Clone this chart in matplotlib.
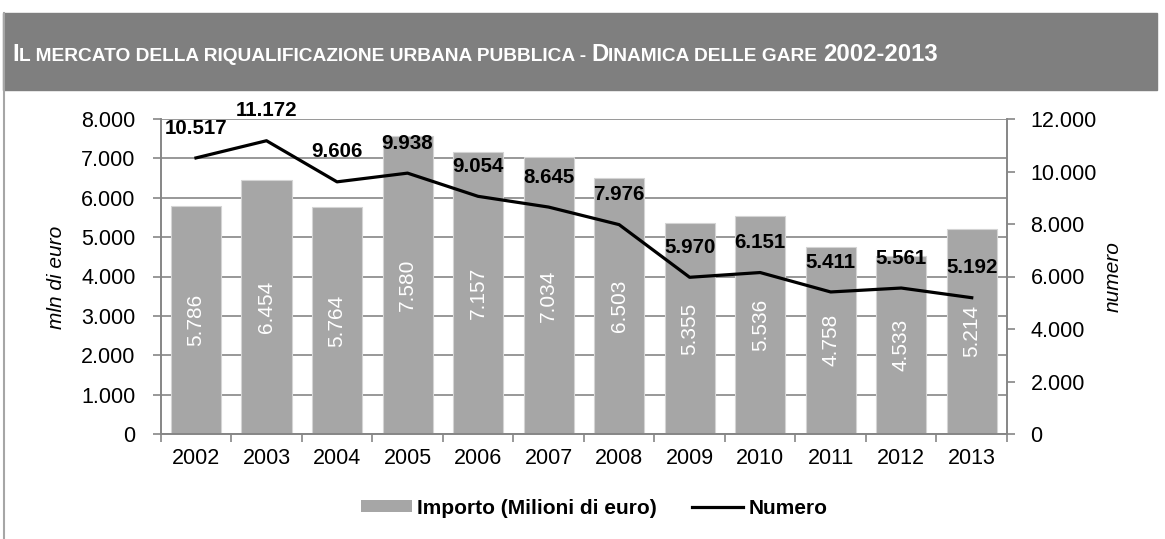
import numpy as np
import matplotlib
matplotlib.use('Agg')
import matplotlib.pyplot as plt
from matplotlib.patches import Rectangle, Patch
from matplotlib.lines import Line2D

plt.rcParams['font.family'] = ['Liberation Sans', 'DejaVu Sans']

anni = ['2002', '2003', '2004', '2005', '2006', '2007',
        '2008', '2009', '2010', '2011', '2012', '2013']
importo = [5786, 6454, 5764, 7580, 7157, 7034, 6503, 5355, 5536, 4758, 4533, 5214]
numero = [10517, 11172, 9606, 9938, 9054, 8645, 7976, 5970, 6151, 5411, 5561, 5192]

left_ticks = list(range(0, 8001, 1000))
right_ticks = list(range(0, 12001, 2000))

titolo = [('I', 'big'), ('L MERCATO DELLA RIQUALIFICAZIONE URBANA PUBBLICA -', 'small'), (' ', 'small'),
          ('D', 'big'), ('INAMICA DELLE GARE', 'small'), (' ', 'small'), ('2002-2013', 'big')]


def fmt(v):
    return f'{v:,}'.replace(',', '.')


W, H = 1165, 539
GRID = '#868686'
BAR = '#a6a6a6'

fig = plt.figure(figsize=(W / 100, H / 100), dpi=100)

# header band + left frame line
fig.patches.append(Rectangle((3 / W, 1 - 90 / H), (1157 - 3) / W, 77 / H,
                             transform=fig.transFigure, color='#7f7f7f', zorder=0))
fig.add_artist(Line2D([3.5 / W, 3.5 / W], [0, 1 - 13 / H], color='#a6a6a6', lw=1.5))

ax = fig.add_axes([160.7 / W, 1 - 434 / H, (1007 - 160.7) / W, (434 - 119) / H])
x = np.arange(len(anni))
ax.bar(x, importo, width=0.71, color=BAR, edgecolor='#d4d4d4', lw=0.8,
       label='Importo (Milioni di euro)')
ax.set_xlim(-0.5, len(anni) - 0.5)
ax.set_ylim(0, 8000)
ax.set_yticks(left_ticks)
ax.set_yticklabels([fmt(v) for v in left_ticks])
ax.set_xticks(x)
ax.set_xticklabels(anni)
ax.set_xticks(np.arange(-0.5, len(anni), 1), minor=True)
ax.tick_params(axis='x', which='major', length=0, pad=10, labelsize=15.5)
ax.tick_params(axis='x', which='minor', length=6, width=1.2, color=GRID, direction='out')
ax.tick_params(axis='y', length=6, width=1.2, color=GRID, pad=12, labelsize=15.5)
ax.yaxis.grid(True, color=GRID, lw=1.2)
ax.set_axisbelow(True)
for s in ['left', 'bottom', 'right']:
    ax.spines[s].set_color(GRID)
    ax.spines[s].set_linewidth(1.2)
ax.spines['top'].set_visible(False)

for i, v in enumerate(importo):
    ax.text(i, v / 2, fmt(v), rotation=90, ha='center', va='center',
            color='white', fontsize=15)

ax2 = ax.twinx()
ax2.plot(x, numero, color='black', lw=2.3, label='Numero')
ax2.set_ylim(0, 12000)
ax2.set_yticks(right_ticks)
ax2.set_yticklabels([fmt(v) for v in right_ticks])
ax2.tick_params(axis='y', length=6, width=1.2, color=GRID, pad=11, labelsize=15.5)
for s in ['left', 'bottom', 'right']:
    ax2.spines[s].set_color(GRID)
    ax2.spines[s].set_linewidth(1.2)
ax2.spines['top'].set_visible(False)

for i, v in enumerate(numero):
    ax2.annotate(fmt(v), (i, v), xytext=(0, 21.5), textcoords='offset points',
                 ha='center', va='center', fontsize=14.8, weight='bold',
                 annotation_clip=False)

fig.text(57 / W, 1 - 277 / H, 'mln di euro', rotation=90, ha='center', va='center',
         fontsize=15, fontstyle='italic')
fig.text(1113 / W, 1 - 277 / H, 'numero', rotation=90, ha='center', va='center',
         fontsize=15, fontstyle='italic')

handles = [Patch(facecolor=BAR, edgecolor='none', label='Importo (Milioni di euro)'),
           Line2D([], [], color='black', lw=2.3, label='Numero')]
fig.legend(handles=handles, ncol=2, loc='center', bbox_to_anchor=(594 / W, 1 - 508 / H),
           frameon=False, prop={'weight': 'bold', 'size': 15}, handlelength=2.45,
           handletextpad=0.25, columnspacing=1.7, handleheight=0.5)

# title in small caps, built piece by piece
r = fig.canvas.get_renderer()
sizes = {'big': 17.2, 'small': 13.8}
xpos = 12 / W
for txt, kind in titolo:
    if txt == ' ':
        xpos += 0.278 * sizes[kind] * 100 / 72 / W
        continue
    t = fig.text(xpos, 1 - 61 / H, txt, fontsize=sizes[kind], weight='bold',
                 color='white', va='baseline', ha='left')
    xpos += t.get_window_extent(r).width / W

fig.savefig('out.png', dpi=100)
